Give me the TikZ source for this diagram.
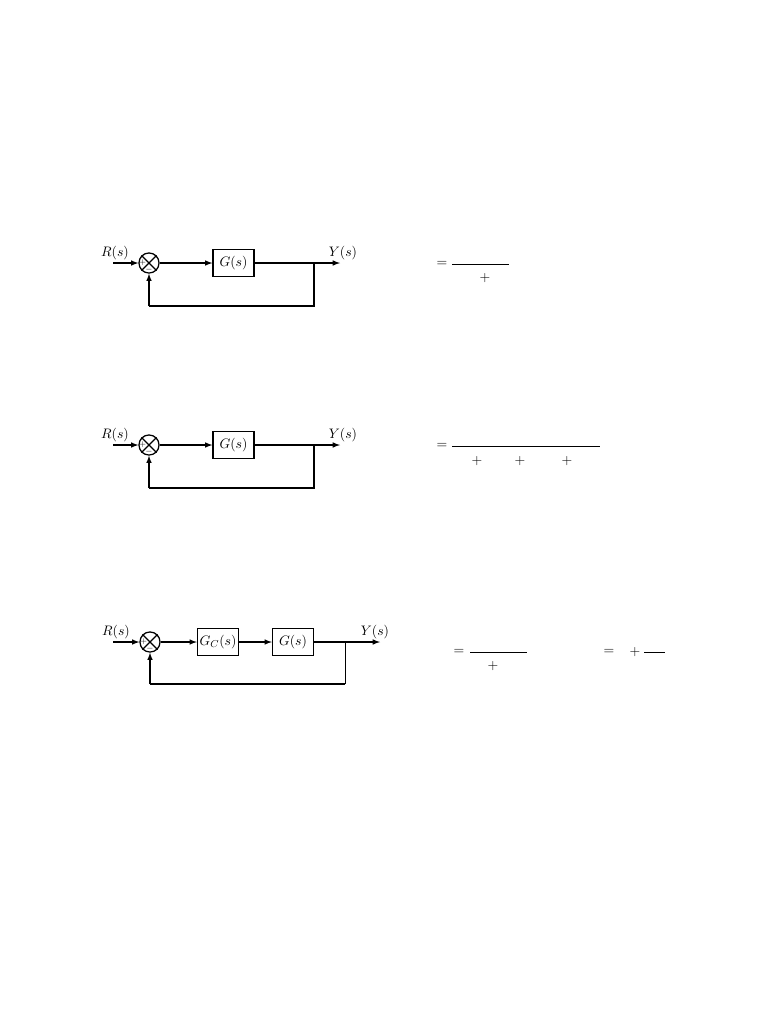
\documentclass[tikz,border=0pt]{standalone}
\usetikzlibrary{arrows}
\tikzset{
  blk/.style={draw, line width=1pt, minimum width=32.7pt, minimum height=21.5pt, inner sep=0pt, font=\fontsize{11}{13}\selectfont},
  sumnode/.style={draw, circle, line width=1pt, minimum size=16pt, inner sep=0pt},
  sig/.style={-latex, line width=1pt},
  wire/.style={line width=1pt},
  frac/.style={line width=0.6pt},
  lbl/.style={inner sep=0pt, font=\fontsize{11}{13}\selectfont}
}
\newcommand{\crossit}[1]{%
  \draw[line width=1pt] (#1.north west) -- (#1.south east) (#1.north east) -- (#1.south west);
  \node[inner sep=0pt, font=\fontsize{6}{6}\selectfont] at ([xshift=-5pt]#1.center) {$+$};
  \node[inner sep=0pt, font=\fontsize{6}{6}\selectfont] at ([yshift=-5pt]#1.center) {$-$};
}
\begin{document}
\begin{tikzpicture}[x=0.797pt, y=-0.797pt]
\useasboundingbox (0,0) rectangle (768,1024);

% first loop
\coordinate (in1) at (113,263);
\node [lbl] (r1) at (115,253) {$R(s)$};
\node [sumnode] (s1) at (149,263) {};
\crossit{s1}
\node [blk] (g1) at (233.5,263) {$G(s)$};
\coordinate (b1) at (314,263);
\coordinate (out1) at (340,263);
\node [lbl] (y1) at (343,253) {$Y(s)$};
\coordinate (f1a) at (314,306);
\coordinate (f1b) at (149,306);
\draw[sig] (in1) -- (s1);
\draw[sig] (s1) -- (g1);
\draw[wire] (g1) -- (b1);
\draw[sig] (b1) -- (out1);
\draw[wire] (b1) -- (f1a) -- (f1b);
\draw[sig] (f1b) -- (s1);

\node [lbl] (eq1) at (442,264) {$=$};
\coordinate (l1a) at (452,264);
\coordinate (l1b) at (509,264);
\draw[frac] (l1a) -- (l1b);
\node [lbl] (p1) at (485,278) {$+$};

% second loop
\coordinate (in2) at (113,445);
\node [lbl] (r2) at (115,435) {$R(s)$};
\node [sumnode] (s2) at (149,445) {};
\crossit{s2}
\node [blk] (g2) at (233.5,445) {$G(s)$};
\coordinate (b2) at (314,445);
\coordinate (out2) at (340,445);
\node [lbl] (y2) at (343,435) {$Y(s)$};
\coordinate (f2a) at (314,488);
\coordinate (f2b) at (149,488);
\draw[sig] (in2) -- (s2);
\draw[sig] (s2) -- (g2);
\draw[wire] (g2) -- (b2);
\draw[sig] (b2) -- (out2);
\draw[wire] (b2) -- (f2a) -- (f2b);
\draw[sig] (f2b) -- (s2);

\node [lbl] (eq2) at (442,446) {$=$};
\coordinate (l2a) at (452,446);
\coordinate (l2b) at (600,446);
\draw[frac] (l2a) -- (l2b);
\node [lbl] (p2a) at (477,461) {$+$};
\node [lbl] (p2b) at (520,461) {$+$};
\node [lbl] (p2c) at (567,461) {$+$};

% third loop, with controller
\coordinate (in3) at (113,642);
\node [lbl] (r3) at (116,632) {$R(s)$};
\node [sumnode] (s3) at (150,642) {};
\crossit{s3}
\node [blk] (gc3) at (218,642) {$G_C(s)$};
\node [blk] (g3) at (293,642) {$G(s)$};
\coordinate (b3) at (345,642);
\coordinate (out3) at (380,642);
\node [lbl] (y3) at (375,632) {$Y(s)$};
\coordinate (f3a) at (345,684);
\coordinate (f3b) at (150,684);
\draw[sig] (in3) -- (s3);
\draw[sig] (s3) -- (gc3);
\draw[sig] (gc3) -- (g3);
\draw[wire] (g3) -- (b3);
\draw[sig] (b3) -- (out3);
\draw[line width=0.6pt] (b3) -- (f3a);
\draw[wire] (f3a) -- (f3b);
\draw[sig] (f3b) -- (s3);

\node [lbl] (eq3) at (459,652) {$=$};
\coordinate (l3a) at (470,652);
\coordinate (l3b) at (527,652);
\draw[frac] (l3a) -- (l3b);
\node [lbl] (p3) at (493,666) {$+$};
\node [lbl] (eq4) at (609,652) {$=$};
\node [lbl] (p4) at (635,652) {$+$};
\coordinate (l4a) at (644,652);
\coordinate (l4b) at (665,652);
\draw[frac] (l4a) -- (l4b);

\end{tikzpicture}
\end{document}
